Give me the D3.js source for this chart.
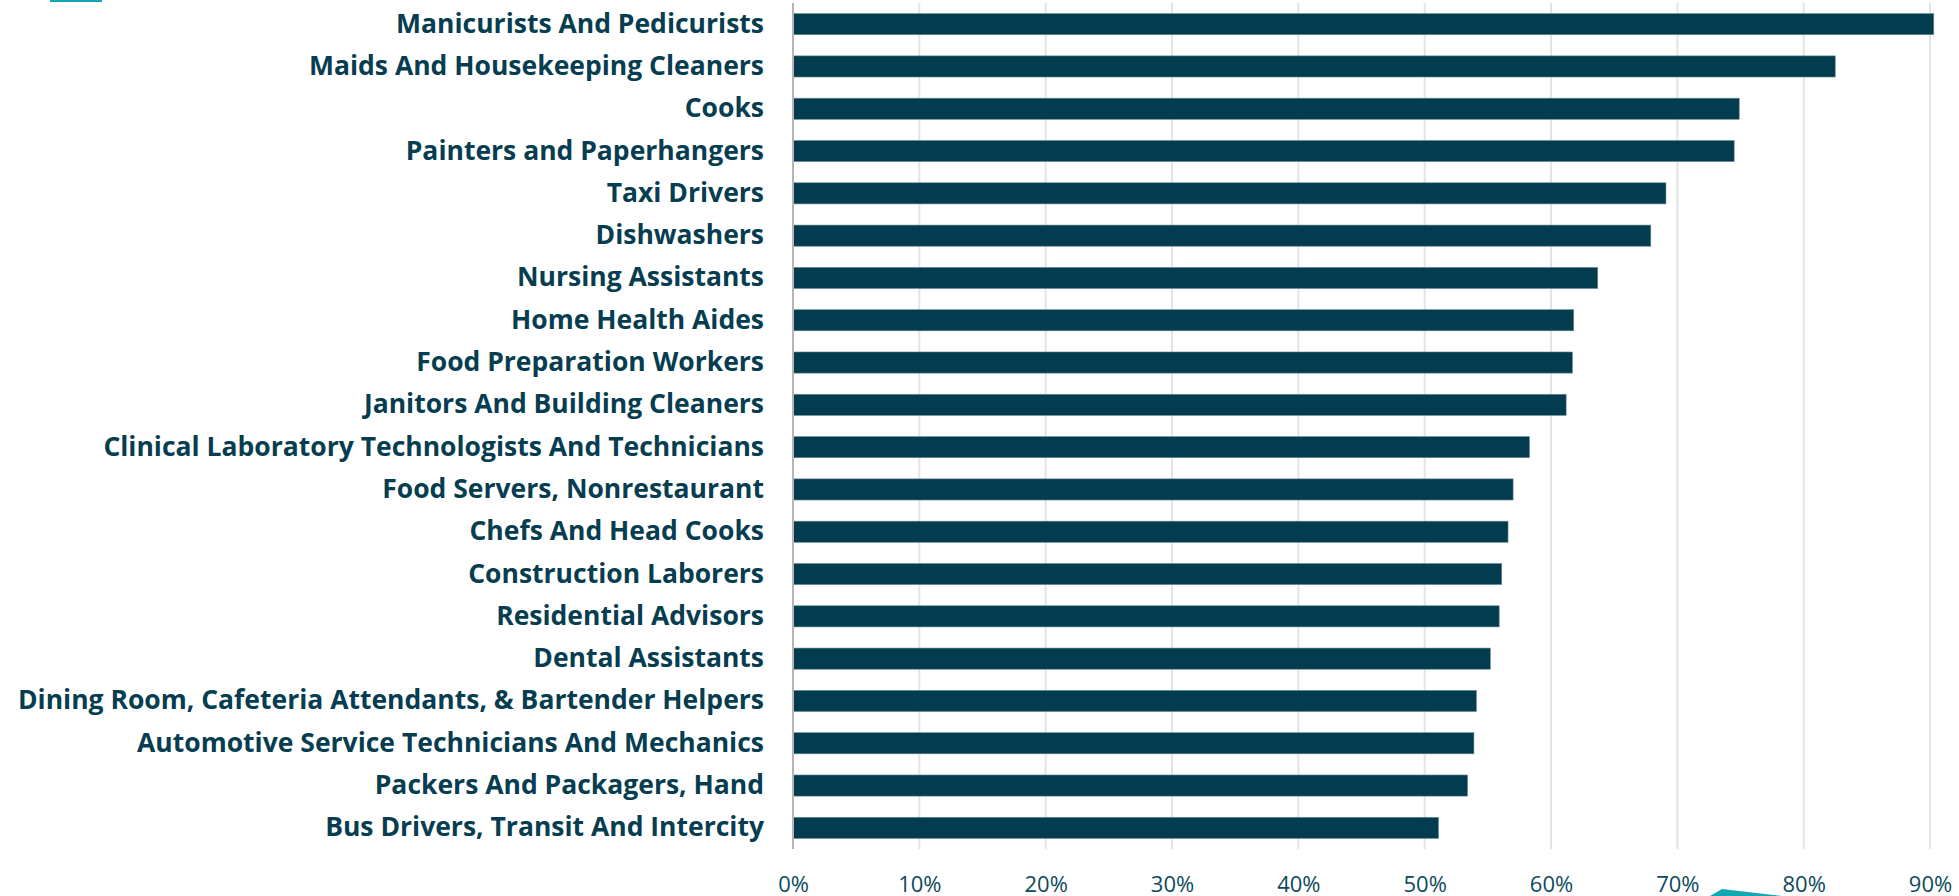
<!DOCTYPE html>
<html>
<head>
<meta charset="utf-8">
<script src="https://cdn.jsdelivr.net/npm/d3@7"></script>
<style>
  html, body { margin: 0; padding: 0; background: #ffffff; }
  svg { display: block; }
</style>
</head>
<body>
<svg id="chart" width="1959" height="896"></svg>
<script>
const categories = [
  "Manicurists And Pedicurists",
  "Maids And Housekeeping Cleaners",
  "Cooks",
  "Painters and Paperhangers",
  "Taxi Drivers",
  "Dishwashers",
  "Nursing Assistants",
  "Home Health Aides",
  "Food Preparation Workers",
  "Janitors And Building Cleaners",
  "Clinical Laboratory Technologists And Technicians",
  "Food Servers, Nonrestaurant",
  "Chefs And Head Cooks",
  "Construction Laborers",
  "Residential Advisors",
  "Dental Assistants",
  "Dining Room, Cafeteria Attendants, & Bartender Helpers",
  "Automotive Service Technicians And Mechanics",
  "Packers And Packagers, Hand",
  "Bus Drivers, Transit And Intercity"
];
const values = [
  0.903, 0.825, 0.749, 0.745, 0.691, 0.679, 0.637, 0.618, 0.617, 0.612,
  0.583, 0.570, 0.566, 0.561, 0.559, 0.552, 0.541, 0.539, 0.534, 0.511
];
const tickValues = [0, 0.1, 0.2, 0.3, 0.4, 0.5, 0.6, 0.7, 0.8, 0.9];

const svg = d3.select("#chart");
const mLeft = 793, mRight = 1930, mTop = 3, mBottom = 849;

const x = d3.scaleLinear().domain([0, 0.9]).range([mLeft, mRight]);
const y = d3.scaleBand().domain(categories).range([mTop, mBottom])
  .paddingInner(0.5).paddingOuter(0.25);

// decorative accents
svg.append("rect").attr("x", 50).attr("y", 0).attr("width", 52).attr("height", 2)
  .attr("fill", "#13a6b3");
svg.append("polygon").attr("points", "1710,896 1722,889 1782,896")
  .attr("fill", "#13a6b3");

// gridlines
svg.append("g").selectAll("line").data(tickValues.slice(1)).join("line")
  .attr("x1", d => x(d)).attr("x2", d => x(d))
  .attr("y1", mTop).attr("y2", mBottom)
  .attr("stroke", "#e4e4e4").attr("stroke-width", 2);

// bars
svg.append("g").selectAll("rect").data(values).join("rect")
  .attr("x", x(0))
  .attr("y", (d, i) => y(categories[i]))
  .attr("width", d => x(d) - x(0))
  .attr("height", y.bandwidth())
  .attr("fill", "#033c4f")
  .attr("stroke", "#6d8e9b").attr("stroke-width", 0.6);

// axis line
svg.append("line").attr("x1", mLeft).attr("x2", mLeft)
  .attr("y1", mTop).attr("y2", mBottom)
  .attr("stroke", "#b8b4b4").attr("stroke-width", 2);

// category labels
const yAxis = d3.axisLeft(y).tickSize(0).tickPadding(29);
const ya = svg.append("g").attr("transform", `translate(${mLeft},0)`).call(yAxis);
ya.select(".domain").remove();
ya.selectAll("text")
  .attr("font-family", "'Open Sans', sans-serif")
  .attr("font-weight", 700)
  .attr("font-size", 26.5)
  .attr("fill", "#063d50");

// x tick labels
const xAxis = d3.axisBottom(x).tickValues(tickValues).tickSize(0).tickPadding(0)
  .tickFormat(d3.format(".0%"));
const xa = svg.append("g").attr("transform", `translate(0,${mBottom})`).call(xAxis);
xa.select(".domain").remove();
xa.selectAll("text")
  .attr("y", 42.5).attr("dy", 0)
  .attr("font-family", "'Open Sans', sans-serif")
  .attr("font-size", 22)
  .attr("fill", "#0d4a5c");
</script>
</body>
</html>
